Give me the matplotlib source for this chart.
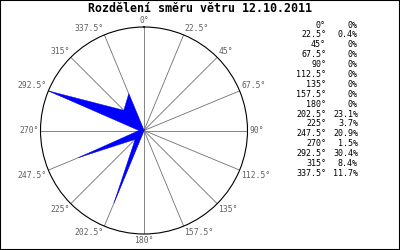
import numpy as np
import matplotlib
matplotlib.use('Agg')
import matplotlib.pyplot as plt

# wind direction distribution
directions = [0, 22.5, 45, 67.5, 90, 112.5, 135, 157.5, 180,
              202.5, 225, 247.5, 270, 292.5, 315, 337.5]
dir_labels = ['0°', '22.5°', '45°', '67.5°', '90°', '112.5°', '135°', '157.5°', '180°',
              '202.5°', '225°', '247.5°', '270°', '292.5°', '315°', '337.5°']
percent = [0, 0.4, 0, 0, 0, 0, 0, 0, 0, 23.1, 3.7, 20.9, 1.5, 30.4, 8.4, 11.7]

mono = 'DejaVu Sans Mono'

fig = plt.figure(figsize=(4, 2.5), dpi=100)
fig.patch.set_facecolor('white')

# polar axes: center (144,130.5), radius ~103.5 px
ax = fig.add_axes([40.5 / 400, 16 / 250, 207 / 400, 207 / 250], projection='polar')
ax.set_theta_zero_location('N')
ax.set_theta_direction(-1)

theta = np.deg2rad(directions)
r = np.array(percent) / max(percent)
ax.fill(np.append(theta, theta[0]), np.append(r, r[0]),
        facecolor='#0000ff', edgecolor='#0000ff', linewidth=0.3, zorder=3)

ax.set_ylim(0, 1)
ax.set_yticks([])
ax.set_xticks(theta)
ax.set_xticklabels([])
ax.grid(True, axis='x', color='#707070', linewidth=0.6)
ax.spines['polar'].set_color('black')
ax.spines['polar'].set_linewidth(0.8)

# direction labels sit right at the circle
for t, lab in zip(theta, dir_labels):
    s, c = np.sin(t), np.cos(t)
    ha = 'center' if abs(s) < 0.01 else ('left' if s > 0 else 'right')
    va = 'center' if abs(c) < 0.01 else ('bottom' if c > 0 else 'top')
    ax.text(t, 1.015, lab, ha=ha, va=va, fontsize=5.8, family=mono,
            color='#606060', clip_on=False)

fig.text(0.5, 1 - 9 / 250, 'Rozdělení směru větru 12.10.2011', ha='center', va='center',
         fontsize=8.4, family=mono, fontweight='bold')

# legend table on the right
for i, (lab, p) in enumerate(zip(dir_labels, percent)):
    y = 1 - (25 + i * 9.9) / 250
    fig.text(326 / 400, y, lab, ha='right', va='center', fontsize=6, family=mono)
    fig.text(358 / 400, y, '{:g}%'.format(p), ha='right', va='center', fontsize=6, family=mono)

fig.add_artist(plt.Rectangle((0, 0), 1, 1, transform=fig.transFigure, fill=False,
                             edgecolor='black', linewidth=1.5))

fig.savefig('out.png', dpi=100)
